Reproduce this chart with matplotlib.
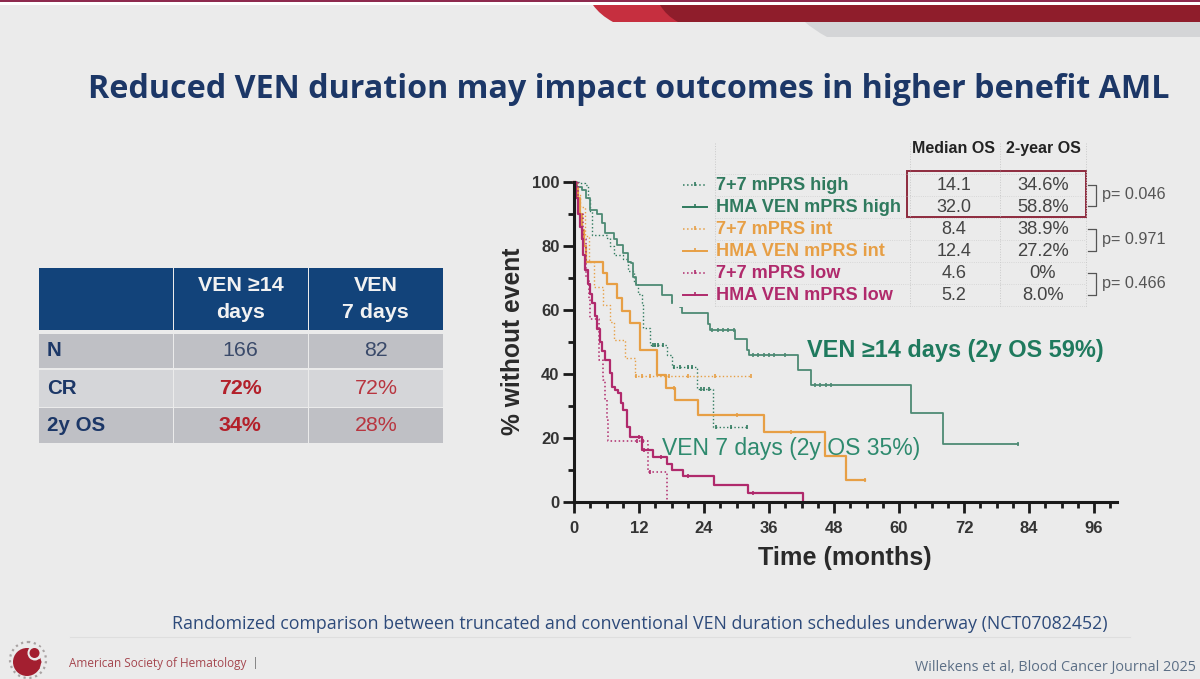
import numpy as np
import matplotlib
matplotlib.use('Agg')
import matplotlib.pyplot as plt
from matplotlib.patches import Rectangle, Circle, PathPatch
from matplotlib.path import Path

# survival curves: months at each step, % without event after the step
high_77_t = [0, 1, 2, 2.6, 3, 3.3, 6, 6.6, 7.3, 9.1, 10, 11, 11.8, 12.5, 12.8, 14, 17.1, 18, 19.2, 22.7, 25.7, 32]
high_77_s = [100, 99.5, 99, 95, 91, 83.4, 82.5, 80, 77, 76, 72, 68.4, 65, 62, 54.4, 49, 46, 42.3, 42, 35.2, 23.5, 23.5]
high_ven_t = [0, 0.6, 1.4, 2.3, 3, 4.2, 5.1, 5.7, 7.3, 7.9, 9.1, 10, 10.6, 10.9, 11.5, 16.2, 18, 19.6, 19.9, 24.7, 25.1, 29.7, 31.9, 32.3, 41.4, 43.8, 62.3, 68.2, 82]
high_ven_s = [100, 98.5, 97.5, 94.9, 91.2, 90, 87, 84, 82, 80.3, 77.7, 75, 74.6, 70.4, 67.8, 64.7, 62.5, 61, 59, 55.5, 53.7, 51, 47.5, 46, 41.2, 36.6, 27.7, 18.1, 18.1]
int_77_t = [0, 0.5, 1.1, 2, 2.8, 3.6, 5.3, 6.6, 7.3, 9.4, 11.3, 32.7]
int_77_s = [100, 96, 92, 83, 75, 67, 61.6, 56.3, 50.6, 45, 39.2, 39.2]
int_ven_t = [0, 0.4, 0.8, 1.1, 1.4, 1.9, 2.3, 5.4, 6, 7.9, 8.8, 10.3, 12.2, 15.3, 17, 18.6, 22.9, 35.1, 46.3, 50.2, 53.7]
int_ven_s = [100, 98, 95, 90, 85, 80, 75, 71.5, 68, 63.7, 59.5, 56, 47.5, 39.7, 35.6, 31.9, 27.2, 21.7, 14.4, 7, 7]
low_77_t = [0, 0.8, 1.6, 2.3, 2.8, 3, 4.7, 5.3, 5.8, 6.1, 6.3, 13.7, 17.1]
low_77_s = [100, 90, 82, 70, 63, 57, 44.4, 38, 32, 25.6, 19, 9.5, 0]
low_ven_t = [0, 0.4, 0.8, 1.1, 1.4, 1.7, 2, 2.5, 3, 3.4, 3.9, 4.3, 4.8, 5.2, 5.7, 6.6, 7.1, 7.6, 8.2, 8.7, 9.1, 9.7, 10.3, 12.5, 14.5, 17.1, 18, 20.2, 25.8, 32.2, 42.3]
low_ven_s = [100, 95, 90, 86, 82, 77, 72.5, 68, 65, 62, 58, 54, 50, 47, 44.4, 40.3, 36, 35, 34, 31, 28.8, 23.5, 20.2, 16.2, 14, 12, 10, 8, 5.3, 2.7, 0]

# censor ticks
high_77_c = [14.5, 15, 15.5, 16.5, 18.5, 19.5, 21, 21.7, 23.5, 24, 25, 26.2, 29, 32]
high_ven_c = [18, 25.5, 26.5, 27.5, 28.5, 29.5, 33, 34, 35, 36, 37, 39, 44.5, 45.5, 46.5, 47.5, 82]
int_77_c = [11.5, 12.5, 14, 17.5, 21, 26, 32.7]
int_ven_c = [18.5, 30, 40, 53.7]
low_77_c = [11.7, 12.8, 14]
low_ven_c = [12, 13, 16, 21, 33, 42.3]

x_ticks = [0, 12, 24, 36, 48, 60, 72, 84, 96]
y_ticks = [0, 20, 40, 60, 80, 100]

legend_names = ['7+7 mPRS high', 'HMA VEN mPRS high', '7+7 mPRS int',
                'HMA VEN mPRS int', '7+7 mPRS low', 'HMA VEN mPRS low']
median_os = ['14.1', '32.0', '8.4', '12.4', '4.6', '5.2']
two_year_os = ['34.6%', '58.8%', '38.9%', '27.2%', '0%', '8.0%']
p_values = ['p= 0.046', 'p= 0.971', 'p= 0.466']

table_head = ['VEN ≥14\ndays', 'VEN\n7 days']
table_rows = ['N', 'CR', '2y OS']
table_ven14 = ['166', '72%', '34%']
table_ven7 = ['82', '72%', '28%']

BG = '#ebebeb'
GREEN = '#2f7a5e'
ORANGE = '#e79f45'
MAGENTA = '#b02a6c'
NAVY = '#1c3767'
W, H = 1200, 679

fig = plt.figure(figsize=(W / 100, H / 100), dpi=100, facecolor=BG)
plt.rcParams['font.family'] = ['Liberation Sans', 'DejaVu Sans']

# chart axes placed on the slide by pixel
left, right, top, bottom = 574, 1117, 181.7, 502
ax = fig.add_axes([left / W, 1 - bottom / H, (right - left) / W, (bottom - top) / H])
ax.patch.set_alpha(0)
ax.set_xlim(0, (right - left) / 5.417)
ax.set_ylim(0, 100)

series = [
    (high_77_t, high_77_s, high_77_c, GREEN, ':', 1.0),
    (high_ven_t, high_ven_s, high_ven_c, '#4d8a74', '-', 1.3),
    (int_77_t, int_77_s, int_77_c, ORANGE, ':', 1.0),
    (int_ven_t, int_ven_s, int_ven_c, ORANGE, '-', 1.6),
    (low_77_t, low_77_s, low_77_c, MAGENTA, ':', 1.1),
    (low_ven_t, low_ven_s, low_ven_c, MAGENTA, '-', 1.6),
]
for t, s, c, col, ls, lw in series:
    ax.step(t, s, where='post', color=col, ls=ls, lw=lw, clip_on=False, zorder=3)
    c = np.array(c)
    idx = np.searchsorted(t, c, side='right') - 1
    ax.plot(c, np.array(s)[idx], ls='none', marker='|', ms=3.5, mew=1.2, color=col, clip_on=False, zorder=3)

for side in ['top', 'right']:
    ax.spines[side].set_visible(False)
for side in ['left', 'bottom']:
    ax.spines[side].set_linewidth(2.2)
    ax.spines[side].set_color('#1a1a1a')
    ax.spines[side].set_zorder(4)
ax.set_xticks(x_ticks)
ax.set_yticks(y_ticks)
ax.set_xticks(np.arange(0, 100, 3), minor=True)
ax.set_yticks(np.arange(0, 101, 10), minor=True)
ax.tick_params(which='major', length=8, width=2, color='#1a1a1a', labelsize=12, labelcolor='#333333')
ax.tick_params(which='minor', length=4.3, width=2, color='#1a1a1a')
ax.tick_params(axis='x', which='major', pad=6)
ax.tick_params(axis='y', which='major', pad=2.5)
for lab in ax.get_xticklabels() + ax.get_yticklabels():
    lab.set_fontweight('bold')

# everything else on the slide, in pixel coordinates
ov = fig.add_axes([0, 0, 1, 1], zorder=5)
ov.set_xlim(0, W)
ov.set_ylim(H, 0)
ov.axis('off')

ov.text(845, 558, 'Time (months)', fontsize=18.2, fontweight='bold', color='#2a2a2a', ha='center', va='center')
ov.text(513, 341, '% without event', fontsize=17.7, fontweight='bold', color='#2a2a2a', rotation=90, ha='center', va='center')

# header bands
ov.add_patch(Rectangle((0, 0), W, 5, color='white', lw=0))
ov.add_patch(Rectangle((0, 0), W, 2, color='#8e2a4e', lw=0))


def band(x0, y0, y1, r, color):
    verts = [(x0, y0), (x0 + r * 0.35, y1 - r * 0.35), (x0 + r, y1), (W, y1), (W, y0), (x0, y0)]
    codes = [Path.MOVETO, Path.CURVE3, Path.CURVE3, Path.LINETO, Path.LINETO, Path.CLOSEPOLY]
    ov.add_patch(PathPatch(Path(verts, codes), fc=color, lw=0))


band(805, 22, 37, 22, '#d4d5d7')
band(593, 5, 22, 20, '#c62f3f')
band(660, 5, 22, 18, '#8f1d2b')

ov.text(629, 90, 'Reduced VEN duration may impact outcomes in higher benefit AML',
        family=['Open Sans', 'DejaVu Sans'], fontsize=23.2, fontweight='bold', color=NAVY, ha='center', va='center')

# left table
cols = [38, 173, 308, 443]
row_edges = [(334, 368), (370, 407), (408, 443)]
row_fill = ['#bfc0c5', '#d5d6d9', '#bfc0c5']
for j in range(3):
    ov.add_patch(Rectangle((cols[j] + 0.5, 268), cols[j + 1] - cols[j] - 1, 62, fc='#12437a', lw=0))
for j, head in enumerate(table_head):
    ov.text((cols[j + 1] + cols[j + 2]) / 2, 299, head, fontsize=15.4, fontweight='bold', color='#f2f2f2',
            ha='center', va='center', linespacing=1.5)
for i, (y0, y1) in enumerate(row_edges):
    ym = (y0 + y1) / 2
    for j in range(3):
        ov.add_patch(Rectangle((cols[j] + 0.5, y0), cols[j + 1] - cols[j] - 1, y1 - y0, fc=row_fill[i], lw=0))
    ov.text(47, ym, table_rows[i], fontsize=14.8, fontweight='bold', color=NAVY, va='center')
    if i == 0:
        ov.text(240, ym, table_ven14[i], fontsize=15.4, color='#3a4a6a', ha='center', va='center')
        ov.text(376, ym, table_ven7[i], fontsize=15.4, color='#3a4a6a', ha='center', va='center')
    else:
        ov.text(240, ym, table_ven14[i], fontsize=15.4, fontweight='bold', color='#b3202a', ha='center', va='center')
        ov.text(376, ym, table_ven7[i], fontsize=15.4, color='#b8353f', ha='center', va='center')

# legend block sits on top of the curves
ov.add_patch(Rectangle((673, 135), 417, 172, fc=BG, lw=0))
rows_y = [185, 207, 229, 251, 273, 295]
leg_style = [(GREEN, ':'), (GREEN, '-'), (ORANGE, ':'), (ORANGE, '-'), (MAGENTA, ':'), (MAGENTA, '-')]
for y, name, med, two, (col, ls) in zip(rows_y, legend_names, median_os, two_year_os, leg_style):
    ov.plot([683, 707], [y, y], color=col, ls=ls, lw=1.1 if ls == ':' else 1.4)
    ov.plot([695], [y - 1], marker='|', ms=3.5, mew=1.2, color=col)
    ov.text(716, y + 5, name, fontsize=13.1, fontweight='bold', color=col, va='baseline')
    ov.text(954, y, med, fontsize=13, color='#444444', ha='center', va='center')
    ov.text(1043, y, two, fontsize=13.2, color='#444444', ha='center', va='center')
ov.text(954, 153, 'Median OS', fontsize=11.5, fontweight='bold', color='#222222', ha='center', va='baseline')
ov.text(1043, 153, '2-year OS', fontsize=11.5, fontweight='bold', color='#222222', ha='center', va='baseline')

# faint dotted grid behind the little table
for x in [715, 910, 1000, 1086]:
    ov.plot([x, x], [143, 307], color='#c9c9c9', ls=':', lw=0.7)
for y in [174, 196, 218, 240, 262, 284, 306]:
    ov.plot([715, 1086], [y, y], color='#d0d0d0', ls=':', lw=0.6)
ov.add_patch(Rectangle((907, 171), 179, 46, fc='none', ec='#8e2a3e', lw=1.4))

for (y0, y1), p in zip([(185, 206), (229, 251), (273, 295)], p_values):
    ov.plot([1088, 1096, 1096, 1088], [y0, y0, y1, y1], color='#555555', lw=0.9)
    ov.text(1102, (y0 + y1) / 2 - 0.5, p, fontsize=11.7, color='#555555', va='center')

ov.text(807, 351, 'VEN ≥14 days (2y OS 59%)', fontsize=16.9, fontweight='bold', color='#1f7a5e', va='center')
ov.text(662, 448, 'VEN 7 days (2y OS 35%)', fontsize=16.5, color='#2e8a6e', va='center')

# footer
ov.plot([70, 1130], [637, 637], color='#dedede', lw=0.8)
ov.text(172, 624, 'Randomized comparison between truncated and conventional VEN duration schedules underway (NCT07082452)',
        family=['Open Sans', 'DejaVu Sans'], fontsize=12.8, color='#2d4a7a', va='center')
ov.text(69, 663, 'American Society of Hematology', family=['Open Sans', 'DejaVu Sans'], fontsize=8.5, color='#a5474f', va='center')
ov.text(254, 663, '|', fontsize=8.5, color='#888888', va='center')
ov.text(915, 667, 'Willekens et al, Blood Cancer Journal 2025', family=['Open Sans', 'DejaVu Sans'], fontsize=10.4, color='#5c6f86', va='center')

# logo
ov.add_patch(Circle((28, 660), 18, fc='none', ec='#a9a3a3', lw=1.6, ls=':'))
ov.add_patch(Circle((27, 662), 14, fc='#a31f30', lw=0))
ov.add_patch(Circle((35, 653), 7.5, fc=BG, lw=0))
ov.add_patch(Circle((34.5, 653), 5, fc='#a31f30', lw=0))
ov.add_patch(Circle((39, 662), 2.5, fc='#a31f30', lw=0))
ov.add_patch(Circle((38, 668), 1.6, fc='#a31f30', lw=0))

fig.savefig('out.png', dpi=100, facecolor=BG)
